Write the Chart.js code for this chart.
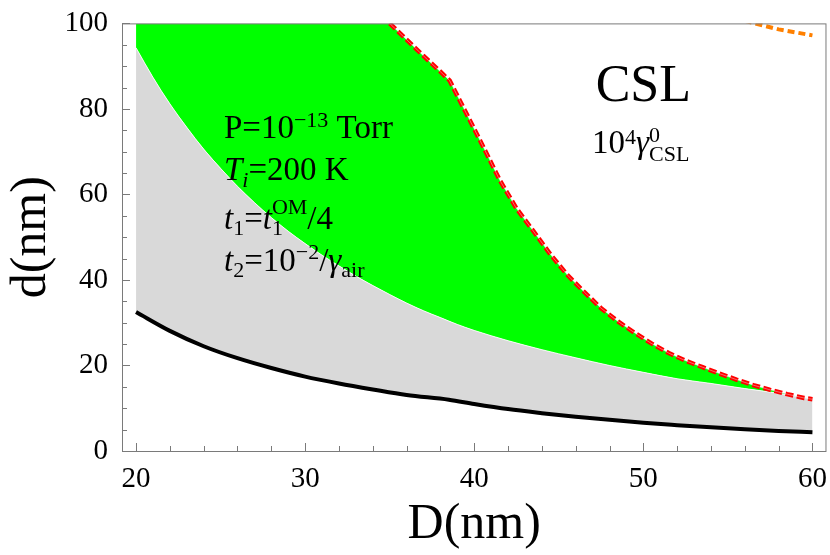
<!DOCTYPE html>
<html>
<head>
<meta charset="utf-8">
<script src="https://cdn.jsdelivr.net/npm/chart.js@4.4.1/dist/chart.umd.min.js"></script>
<style>
  html, body { margin: 0; padding: 0; background: #fff; }
  #contenedor { width: 830px; height: 555px; }
</style>
</head>
<body>
<div id="contenedor"><canvas id="grafica" width="830" height="555"></canvas></div>
<script>
// Curva negra (cota inferior)
const negraD = [20, 22, 24, 26, 28, 30, 32, 34, 36, 38.5, 40, 42, 44, 46, 48, 50, 52, 54, 56, 58, 60];
const negraValores = [32.5, 28.1, 24.5, 21.7, 19.4, 17.4, 15.8, 14.4, 13.1, 12.0, 11.0, 9.8, 8.85, 8.0, 7.3, 6.6, 6.05, 5.55, 5.1, 4.7, 4.4];

// Borde superior de la region gris (frontera gris / verde)
const grisD = [20, 21, 22, 23, 24, 25, 26, 27, 28, 29, 30, 31, 32, 33, 34, 35, 36, 37, 38, 39, 40, 42, 44, 46, 48, 50, 52, 54, 56, 58, 60];
const grisValores = [94.3, 87.4, 81.2, 75.7, 70.6, 66.1, 61.9, 58.1, 54.6, 51.4, 48.5, 45.8, 43.3, 40.9, 38.7, 36.6, 34.6, 32.8, 31.2, 29.6, 28.2, 25.8, 23.7, 21.8, 20.0, 18.4, 16.9, 15.8, 14.6, 13.5, 12.1];

// Curva roja discontinua (borde superior de la region verde)
const rojaD = [35, 36, 37, 38, 38.55, 39.5, 40.5, 41.5, 42.5, 43.5, 44.5, 45.5, 46.5, 47.5, 48.5, 49.5, 50.5, 51.5, 52.5, 53.5, 54.5, 55.5, 56.5, 57.5, 58.5, 59.5, 60];
const rojaValores = [100, 96.2, 92.4, 88.7, 86.6, 79.2, 71.4, 63.4, 56.7, 51.4, 46.0, 41.2, 37.2, 33.4, 30.3, 27.6, 25.1, 22.9, 21.1, 19.6, 18.1, 16.7, 15.4, 14.3, 13.3, 12.4, 12.1];

// Curva naranja punteada (esquina superior derecha)
const naranjaD = [56.0, 58.0, 60.0];
const naranjaValores = [100.6, 98.6, 97.2];

// Marcas de los ejes
const xTicks = [20, 30, 40, 50, 60];
const xTicksMenores = [22, 24, 26, 28, 32, 34, 36, 38, 42, 44, 46, 48, 52, 54, 56, 58];
const yTicks = [0, 20, 40, 60, 80, 100];
const yTicksMenores = [5, 10, 15, 25, 30, 35, 45, 50, 55, 65, 70, 75, 85, 90, 95];

const fuente = '"Liberation Serif", "DejaVu Serif", serif';

const puntos = (xs, ys) => xs.map((x, i) => ({ x, y: ys[i] }));

// Texto con sub/superindices
const dibujarTexto = (ctx, x, y, partes, alinear) => {
    let ancho = 0;
    partes.forEach(p => {
        ctx.font = `${p.it ? 'italic ' : ''}${p.s || 33}px ${fuente}`;
        if (!p.queda) ancho += ctx.measureText(p.t).width;
    });
    let cx = alinear === 'centro' ? x - ancho / 2 : x;
    partes.forEach(p => {
        ctx.font = `${p.it ? 'italic ' : ''}${p.s || 33}px ${fuente}`;
        ctx.fillText(p.t, cx, y + (p.dy || 0));
        if (!p.queda) cx += ctx.measureText(p.t).width;
    });
};

const marcoYMarcas = {
    id: 'marcoYMarcas',
    afterDatasetsDraw(chart) {
        const { ctx, chartArea: a, scales: { x, y } } = chart;
        ctx.save();
        ctx.strokeStyle = '#7a7a7a';
        ctx.lineWidth = 1;
        ctx.strokeRect(a.left + 0.5, a.top + 0.5, a.right - a.left - 1, a.bottom - a.top);
        ctx.beginPath();
        xTicks.forEach(v => { const px = Math.round(x.getPixelForValue(v)) + 0.5; ctx.moveTo(px, a.bottom); ctx.lineTo(px, a.bottom - 8); });
        xTicksMenores.forEach(v => { const px = Math.round(x.getPixelForValue(v)) + 0.5; ctx.moveTo(px, a.bottom); ctx.lineTo(px, a.bottom - 5); });
        yTicks.forEach(v => { const py = Math.round(y.getPixelForValue(v)) + 0.5; ctx.moveTo(a.left, py); ctx.lineTo(a.left + 8, py); });
        yTicksMenores.forEach(v => { const py = Math.round(y.getPixelForValue(v)) + 0.5; ctx.moveTo(a.left, py); ctx.lineTo(a.left + 5, py); });
        ctx.stroke();

        // Anotaciones
        ctx.fillStyle = '#000';
        ctx.textBaseline = 'alphabetic';
        ctx.textAlign = 'left';
        const tx = x.getPixelForValue(25.2);
        dibujarTexto(ctx, tx, y.getPixelForValue(73.2), [
            { t: 'P=10' }, { t: '\u221213', s: 22, dy: -11 }, { t: ' Torr' }
        ]);
        dibujarTexto(ctx, tx, y.getPixelForValue(63.3), [
            { t: 'T', it: true }, { t: 'i', it: true, s: 22, dy: 7 }, { t: '=200 K' }
        ]);
        dibujarTexto(ctx, tx, y.getPixelForValue(51.9), [
            { t: 't', it: true }, { t: '1', s: 22, dy: 6 }, { t: '=' }, { t: 't', it: true },
            { t: '1', s: 22, dy: 6, queda: true }, { t: 'OM', s: 22, dy: -15 }, { t: '/4' }
        ]);
        dibujarTexto(ctx, tx, y.getPixelForValue(42.2), [
            { t: 't', it: true }, { t: '2', s: 22, dy: 6 }, { t: '=10' }, { t: '\u22122', s: 22, dy: -12 },
            { t: '/' }, { t: '\u03b3', it: true }, { t: 'air', s: 22, dy: 6 }
        ]);
        dibujarTexto(ctx, x.getPixelForValue(50), y.getPixelForValue(81.8), [
            { t: 'CSL', s: 52 }
        ], 'centro');
        dibujarTexto(ctx, x.getPixelForValue(46.97), y.getPixelForValue(69.8), [
            { t: '10' }, { t: '4', s: 22, dy: -9 }, { t: '\u03b3', it: true },
            { t: '0', s: 22, dy: -11, queda: true }, { t: 'CSL', s: 22, dy: 8 }
        ]);
        ctx.restore();
    }
};

const grafica = new Chart(document.getElementById('grafica').getContext('2d'), {
    type: 'line',
    data: {
        datasets: [
            {
                // region verde: hasta 100 y luego bajo la curva roja
                data: [{ x: 20, y: 100 }, ...puntos(rojaD, rojaValores)],
                borderColor: 'rgba(0,0,0,0)',
                borderWidth: 0,
                backgroundColor: '#00ff00',
                fill: { target: 1 },
                order: 5
            },
            {
                data: puntos(grisD, grisValores),
                borderColor: 'rgba(255,255,255,0.85)',
                borderWidth: 1,
                backgroundColor: '#d9d9d9',
                cubicInterpolationMode: 'monotone',
                fill: { target: 2 },
                order: 4
            },
            {
                data: puntos(negraD, negraValores),
                borderColor: '#000',
                borderWidth: 4,
                borderCapStyle: 'butt',
                cubicInterpolationMode: 'monotone',
                fill: false,
                order: 3
            },
            {
                data: puntos(rojaD, rojaValores),
                borderColor: '#ff0000',
                borderWidth: 4.5,
                borderDash: [8, 3.5],
                fill: false,
                order: 2
            },
            {
                data: puntos(rojaD, rojaValores),
                borderColor: 'rgba(235,235,235,0.55)',
                borderWidth: 0.8,
                fill: false,
                order: 1
            },
            {
                data: puntos(naranjaD, naranjaValores),
                borderColor: '#ff8000',
                borderWidth: 4,
                borderDash: [7, 4],
                fill: false,
                order: 0
            }
        ]
    },
    options: {
        responsive: false,
        animation: false,
        events: [],
        clip: 0,
        layout: { padding: { top: 15, right: 3, left: 0, bottom: 0 } },
        elements: { point: { radius: 0 }, line: { tension: 0 } },
        plugins: {
            legend: { display: false },
            tooltip: { enabled: false }
        },
        scales: {
            x: {
                type: 'linear',
                min: 19.17,
                max: 60.83,
                grid: { display: false },
                border: { display: false },
                afterBuildTicks: s => { s.ticks = xTicks.map(v => ({ value: v })); },
                afterFit: s => { s.height = 104; },
                ticks: {
                    autoSkip: false,
                    maxRotation: 0,
                    padding: 3,
                    color: '#000',
                    font: { family: fuente, size: 29 }
                },
                title: {
                    display: true,
                    text: 'D(nm)',
                    color: '#000',
                    padding: 0,
                    font: { family: fuente, size: 50 }
                }
            },
            y: {
                type: 'linear',
                min: 0,
                max: 100,
                grid: { display: false },
                border: { display: false },
                afterBuildTicks: s => { s.ticks = yTicks.map(v => ({ value: v })); },
                afterFit: s => { s.width = 122; },
                ticks: {
                    autoSkip: false,
                    padding: 6,
                    color: '#000',
                    font: { family: fuente, size: 29 }
                },
                title: {
                    display: true,
                    text: 'd(nm)',
                    color: '#000',
                    padding: { top: 2 },
                    font: { family: fuente, size: 50 }
                }
            }
        }
    },
    plugins: [marcoYMarcas]
});
</script>
</body>
</html>
